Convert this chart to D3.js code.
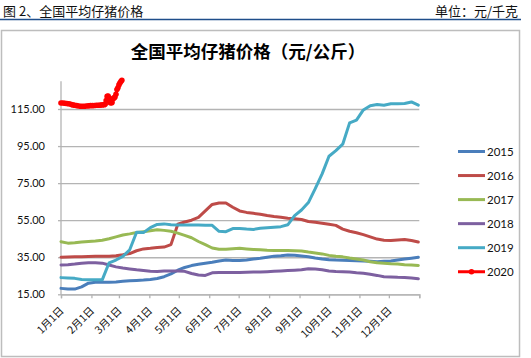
<!DOCTYPE html>
<html><head><meta charset="utf-8">
<script src="https://cdn.jsdelivr.net/npm/d3@7/dist/d3.min.js"></script>
<style>
html,body{margin:0;padding:0;background:#fff;}
svg{display:block;}
</style></head>
<body>
<svg id="chart" width="531" height="358"></svg>
<script>
// ---------- data ----------
const years = ["2015", "2016", "2017", "2018", "2019", "2020"];
const colors = ["#4A7EBB", "#BE4B48", "#98B954", "#7D60A0", "#46AAC5", "#FF0000"];
const monthStarts = [0, 31, 59, 90, 120, 151, 181, 212, 243, 273, 304, 334];
const monthLabels = ["1月1日","2月1日","3月1日","4月1日","5月1日","6月1日","7月1日","8月1日","9月1日","10月1日","11月1日","12月1日"];
const yTicks = [15, 35, 55, 75, 95, 115];
// weekly observation days (day of year) for 2015-2019
const weekDays = [0,7,14,21,28,35,42,49,56,63,70,77,84,91,98,105,112,119,126,133,140,147,154,161,168,175,182,189,196,203,210,217,224,231,238,245,252,259,266,273,280,287,294,301,308,315,322,329,336,343,350,357,364];
const v2015 = [18.2,17.8,17.8,19,21,21.5,21.5,21.5,21.7,22,22.3,22.5,22.7,23,23.5,24.5,26,28,29.5,30.5,31.2,31.8,32.3,33,33.5,33.3,33.2,33.5,34,34.4,35,35.6,35.8,36.2,36.1,35.7,35.3,34.6,34,33.7,33.5,33.4,33.3,33.1,33,32.8,32.6,32.8,33,33.5,34,34.5,35];
const v2016 = [35,35.1,35.2,35.3,35.4,35.5,35.5,35.6,35.8,36.3,37,38.5,39.5,39.8,40.2,40.5,41.8,52.8,54,55,56.5,60,63.5,64.3,64.3,62,60,59.2,58.7,58.2,57.5,57,56.6,56.1,55.8,55.4,54.3,53.9,53.4,52.8,52.2,50.2,49,48.2,47.2,46,44.8,44.2,44,44.3,44.6,44,43.2];
const v2017 = [43.4,42.6,42.8,43.2,43.5,43.8,44.2,45,46,47,47.6,48.3,48.8,49.3,49.8,49.5,49,48,46.8,45.5,43.5,41.8,40,39.3,39.3,39.6,39.8,39.5,39.2,39,38.8,38.7,38.6,38.6,38.5,38.4,37.8,37.3,36.8,36,35.5,35.2,34.6,34.1,33.5,32.6,32,31.8,31.5,31.3,31,30.8,30.6];
const v2018 = [30.8,31,31.3,31.8,32,32,31.8,30.8,29.8,29.2,28.7,28.2,27.8,27.4,27.3,27.6,27.6,27.6,27.4,26.2,25.4,25.2,26.6,26.8,26.8,26.8,26.8,26.9,27,27,27.2,27.4,27.6,27.8,28,28.2,28.8,28.6,28.3,27.6,27.3,27.2,27,26.6,26.3,25.8,25.2,24.5,24.4,24.2,24.1,23.8,23.4];
const v2019 = [24,23.8,23.6,23,22.9,22.8,22.8,32,33.5,35.5,39,48.5,48.3,51,52.7,53,52.5,52.4,52.4,52.4,52.4,52.3,52.2,49,48.8,50.5,50.5,50.2,50,50.6,50.9,51.2,51.5,52.5,57.5,60.5,64.5,72,80,89.5,92.5,96,107.5,109,114.5,116.8,117.4,117,117.8,117.8,118,118.8,117.1];
// 2020 observation days and values
const days2020 = [0,2,4,6,8,10,12,14,16,18,20,22,24,26,28,30,32,34,36,38,40,42,44,45,46,47,48,49,50,51,52,53,54,55,56,57,58,59,60,61,62];
const v2020 = [118.2,118.2,118.1,118,117.8,117.5,117.2,117,116.8,116.6,116.5,116.5,116.5,116.6,116.7,116.8,116.8,116.9,117,117,117.1,117.2,117.3,117.5,119.5,121.8,122,121,118.5,118.2,118.5,120.5,121,121.5,123,125.5,126.5,128,129,129.8,130.5];

const weekly = [v2015, v2016, v2017, v2018, v2019];

// ---------- layout ----------
const svg = d3.select("#chart");
const cjk = "'Noto Sans CJK SC', 'Noto Sans', sans-serif";
const num = "Lato, 'Noto Sans', sans-serif";

// header
svg.append("text").attr("x", 3).attr("y", 15.5).attr("font-family", cjk).attr("font-size", 13)
  .attr("fill", "#111").text("图 2、全国平均仔猪价格");
svg.append("text").attr("x", 518).attr("y", 15.5).attr("text-anchor", "end").attr("font-family", cjk)
  .attr("font-size", 13).attr("fill", "#111").text("单位：元/千克");
svg.append("line").attr("x1", 0).attr("x2", 521).attr("y1", 19.5).attr("y2", 19.5)
  .attr("stroke", "#1F4E8A").attr("stroke-width", 1.5);

// frame
svg.append("rect").attr("x", 1.5).attr("y", 30.5).attr("width", 518).attr("height", 326)
  .attr("fill", "#fff").attr("stroke", "#BDBDBD").attr("stroke-width", 1.5);

// title
svg.append("text").attr("x", 248).attr("y", 58).attr("text-anchor", "middle")
  .attr("font-family", cjk).attr("font-size", 17.5).attr("font-weight", "bold").attr("fill", "#000")
  .text("全国平均仔猪价格（元/公斤）");

// scales
const x = d3.scaleLinear().domain([0, 365]).range([61, 419.3]);
const y = d3.scaleLinear().domain([15, 115]).range([294.3, 109]);
const yTop = 130;

// gridlines
const grid = svg.append("g").attr("transform", `translate(${x(0)},0)`)
  .call(d3.axisLeft(y).tickValues(yTicks).tickSize(-(x(365) - x(0))).tickFormat(""));
grid.select(".domain").remove();
grid.selectAll("line").attr("stroke", "#B4B4B4").attr("stroke-width", 1.3);

// y axis
const yAxis = svg.append("g").attr("transform", `translate(${x(0)},0)`)
  .call(d3.axisLeft(y).tickValues(yTicks).tickSize(3).tickPadding(13).tickFormat(d3.format(".2f")));
yAxis.select(".domain").remove();
yAxis.selectAll("line").attr("stroke", "#B4B4B4").attr("stroke-width", 1.3);
yAxis.selectAll("text").attr("font-family", num).attr("font-size", 11).attr("fill", "#111");
svg.append("line").attr("x1", x(0)).attr("x2", x(0)).attr("y1", y(yTop)).attr("y2", y(15))
  .attr("stroke", "#B4B4B4").attr("stroke-width", 1.3);

// x axis
const xAxis = svg.append("g").attr("transform", `translate(0,${y(15)})`)
  .call(d3.axisBottom(x).tickValues(monthStarts.concat([365])).tickSize(4)
    .tickFormat((d, i) => monthLabels[i] || ""));
xAxis.select(".domain").attr("stroke", "#B4B4B4").attr("stroke-width", 1.3);
xAxis.selectAll("line").attr("stroke", "#B4B4B4").attr("stroke-width", 1.3);
xAxis.selectAll("text").attr("font-family", cjk).attr("font-size", 10.5).attr("fill", "#111")
  .attr("text-anchor", "end").attr("dy", null).attr("y", 0)
  .attr("transform", "translate(3,17) rotate(-45)");

// lines
const line = d3.line().x(d => x(d[0])).y(d => y(d[1]));
const plot = svg.append("g");
weekly.forEach((vals, i) => {
  const pts = weekDays.map((d, j) => [d, vals[j]]);
  plot.append("path").datum(pts).attr("d", line).attr("fill", "none")
    .attr("stroke", colors[i]).attr("stroke-width", 3)
    .attr("stroke-linejoin", "round").attr("stroke-linecap", "round");
});
const pts2020 = days2020.map((d, j) => [d, v2020[j]]);
plot.append("path").datum(pts2020).attr("d", line).attr("fill", "none")
  .attr("stroke", colors[5]).attr("stroke-width", 3).attr("stroke-linejoin", "round");
plot.selectAll("circle.m").data(pts2020).enter().append("circle")
  .attr("cx", d => x(d[0])).attr("cy", d => y(d[1])).attr("r", 2.8).attr("fill", colors[5]);

// legend
const leg = svg.append("g");
years.forEach((yr, i) => {
  const ly = 151.5 + i * 24.05;
  leg.append("line").attr("x1", 458).attr("x2", 485).attr("y1", ly).attr("y2", ly)
    .attr("stroke", colors[i]).attr("stroke-width", 3);
  if (i === 5) leg.append("circle").attr("cx", 471.5).attr("cy", ly).attr("r", 2.8).attr("fill", colors[i]);
  leg.append("text").attr("x", 487).attr("y", ly + 4).attr("font-family", num).attr("font-size", 11.5)
    .attr("fill", "#111").text(yr);
});
</script>
</body></html>
